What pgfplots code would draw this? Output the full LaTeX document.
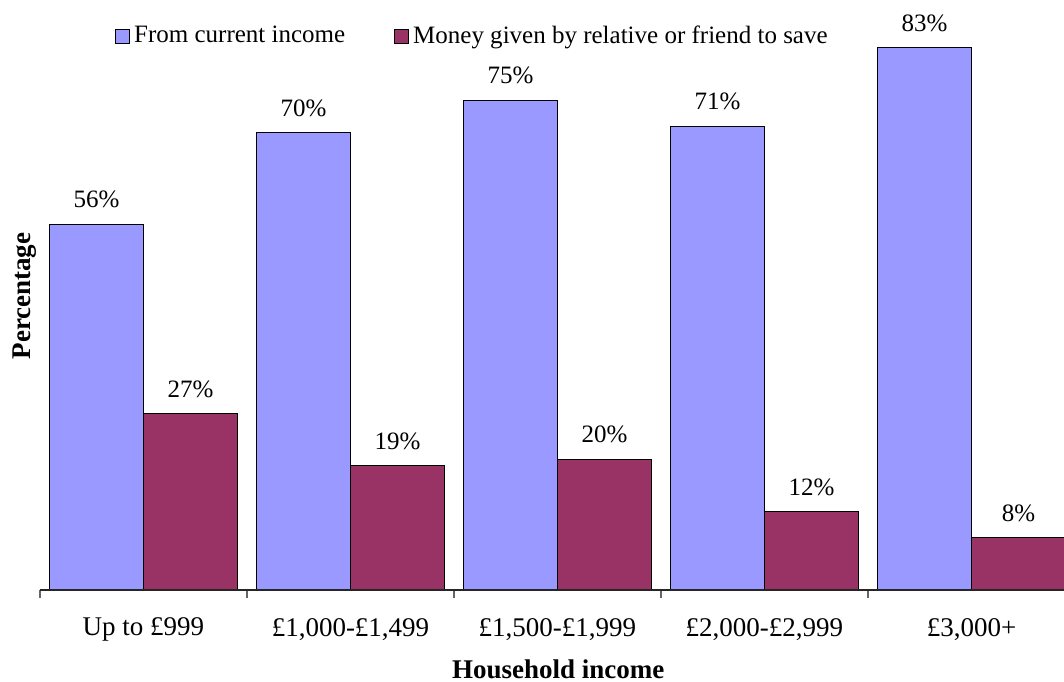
\documentclass[border=0pt]{standalone}
\usepackage{fontspec}
\setmainfont{Liberation Serif}
\usepackage{pgfplots}
\pgfplotsset{compat=1.18}
\definecolor{lavender}{HTML}{9999FF}
\definecolor{plum}{HTML}{993366}

\begin{document}
\begin{tikzpicture}[font=\fontsize{13.5}{16}\selectfont]
\begin{axis}[
    scale only axis,
    width=512pt, height=294pt,
    xmin=-0.5, xmax=4.447,
    ymin=0, ymax=90,
    ybar,
    axis line style={draw=none},
    ytick=\empty,
    xtick={0,...,4},
    xticklabels={Up to £999, {£1,000-£1,499}, {£1,500-£1,999}, {£2,000-£2,999}, {£3,000+}},
    xticklabel style={yshift=-10.5pt},
    major tick length=0pt,
    minor xtick={-0.5,0.5,1.5,2.5,3.5},
    minor tick length=4pt,
    minor tick style={black!60, line width=0.6pt},
    xtick pos=bottom,
    tick align=outside,
    xlabel={\textbf{Household income}},
    xlabel style={at={(axis description cs:0.506,0)}, anchor=base, yshift=-44pt},
    ylabel={\textbf{Percentage}},
    ylabel style={at={(axis description cs:-0.003,0.5)}, anchor=south, inner sep=0pt},
    /pgf/number format/assume math mode=true,
    nodes near coords={\pgfmathprintnumber{\pgfplotspointmeta}\%},
    nodes near coords style={font=\fontsize{12.5}{15}\selectfont, anchor=south, yshift=4.5pt},
    legend style={draw=none, fill=none, at={(axis description cs:0.073,0.942)}, anchor=west,
        font=\fontsize{12.5}{15}\selectfont, inner sep=0pt,
        /tikz/every even column/.append style={column sep=22.5pt}},
    legend columns=2,
    legend cell align=left,
    legend image code/.code={\draw[#1, line width=0.5pt] (0pt,-3.5pt) rectangle (7pt,3.5pt);},
]
\addplot[fill=lavender, draw=black, line width=0.5pt, bar width=0.454, bar shift=-0.227]
    coordinates {(0,56) (1,70) (2,75) (3,71) (4,83)};
\addlegendentry{From current income}
\addplot[fill=plum, draw=black, line width=0.5pt, bar width=0.454, bar shift=0.227]
    coordinates {(0,27) (1,19) (2,20) (3,12) (4,8)};
\addlegendentry{Money given by relative or friend to save}
\draw[black!85, line width=0.8pt] (axis cs:-0.5,0) -- (axis cs:4.447,0);
\end{axis}
\pgfresetboundingbox
\path[use as bounding box] (-20pt,-45.5pt) rectangle (512pt,295pt);
\end{tikzpicture}
\end{document}
